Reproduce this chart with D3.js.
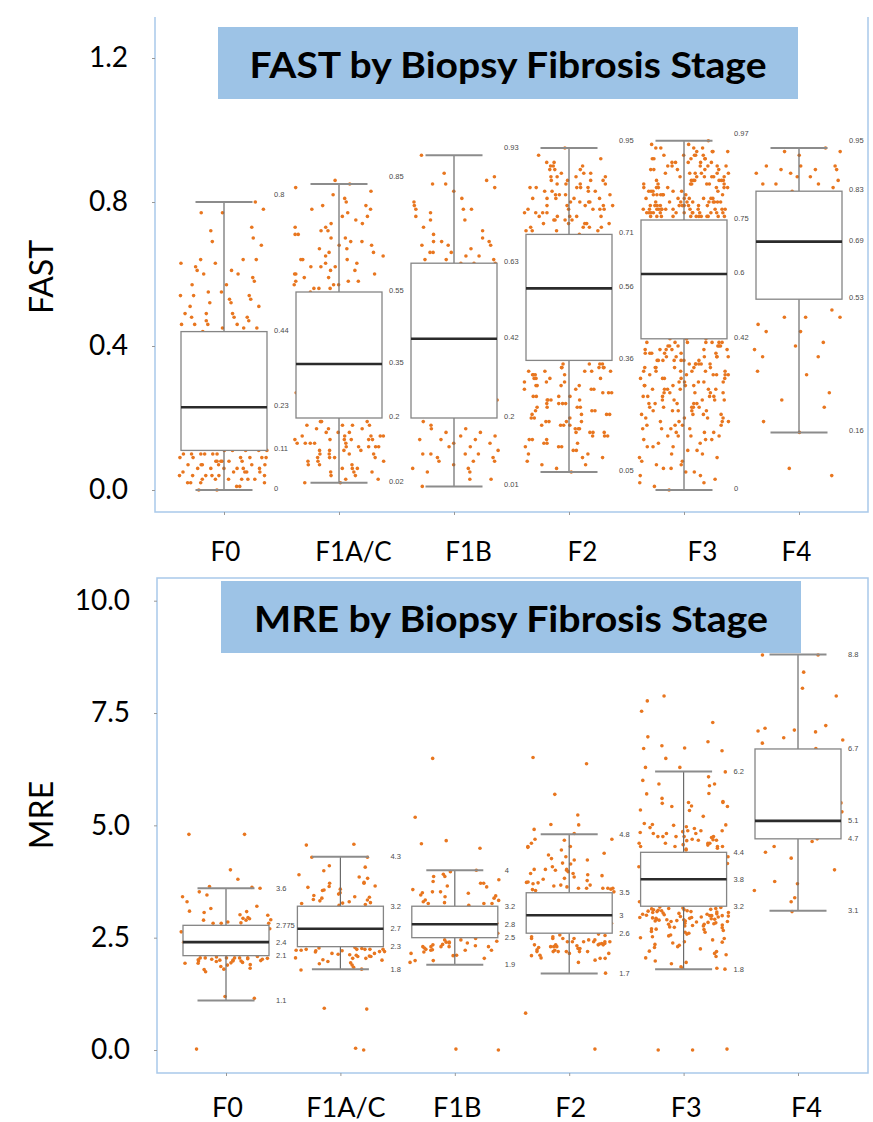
<!DOCTYPE html>
<html>
<head>
<meta charset="utf-8">
<script src="https://cdn.jsdelivr.net/npm/d3@7"></script>
<style>
  body { margin: 0; background: #fff; }
  svg { display: block; }
</style>
</head>
<body>
<svg id="chart" width="873" height="1122"></svg>
<script>
const stages = ["F0", "F1A/C", "F1B", "F2", "F3", "F4"];

// FAST box stats per stage
const fastLow  = [0,    0.02, 0.01, 0.05, 0,    0.16];
const fastQ1   = [0.11, 0.2,  0.2,  0.36, 0.42, 0.53];
const fastMed  = [0.23, 0.35, 0.42, 0.56, 0.6,  0.69];
const fastQ3   = [0.44, 0.55, 0.63, 0.71, 0.75, 0.83];
const fastHigh = [0.8,  0.85, 0.93, 0.95, 0.97, 0.95];
const fastTicks = [0, 0.4, 0.8, 1.2];

// MRE box stats per stage
const mreLow  = [1.1,   1.8, 1.9, 1.7, 1.8, 3.1];
const mreQ1   = [2.1,   2.3, 2.5, 2.6, 3.2, 4.7];
const mreMed  = [2.4,   2.7, 2.8, 3,   3.8, 5.1];
const mreQ3   = [2.775, 3.2, 3.2, 3.5, 4.4, 6.7];
const mreHigh = [3.6,   4.3, 4, 4.8, 6.2, 8.8];
const mreTicks = [0, 2.5, 5, 7.5, 10];

// individual FAST readings, per stage
const fastF0 = [0.80,0.77,0.78,0.77,0.73,0.72,0.70,0.69,0.68,0.64,0.64,0.63,0.63,0.64,0.62,0.60,0.60,0.59,0.61,0.61,
  0.57,0.57,0.58,0.54,0.54,0.55,0.54,0.53,0.55,0.53,0.52,0.51,0.52,0.51,0.49,0.48,0.48,0.47,0.49,0.48,0.49,0.47,0.46,
  0.45,0.45,0.46,0.45,0.44,0.46,0.46,0.41,0.27,0.20,0.18,0.17,0.35,0.30,0.15,0.38,0.24,
  0.11,0.11,0.10,0.11,0.10,0.11,0.11,0.10,0.09,0.10,0.09,0.08,0.09,0.08,0.07,0.09,0.08,0.07,0.06,0.08,0.07,0.06,0.05,
  0.07,0.06,0.05,0.04,0.06,0.05,0.04,0.03,0.05,0.04,0.03,0.02,0.04,0.03,0.02,0.01,0.03,0.02,0.00,0.03,0.04,0.06,0.08,
  0.10,0.09,0.07,0.05,0.02,0.01,0.00,0.08,0.06,0.04,0.10,0.09,0.07,0.03];
const fastF1AC = [0.86,0.83,0.85,0.79,0.81,0.76,0.84,0.78,0.72,0.80,0.74,0.77,0.69,0.75,0.71,0.82,0.66,0.73,0.70,0.64,
  0.68,0.78,0.62,0.67,0.74,0.60,0.65,0.71,0.58,0.63,0.69,0.57,0.61,0.66,0.56,0.59,0.64,0.72,0.62,0.57,0.68,0.60,0.56,
  0.63,0.58,0.76,0.65,0.61,0.57,0.70,0.59,0.67,0.56,0.62,0.79,0.55,0.58,0.64,0.73,0.60,
  0.52,0.47,0.43,0.38,0.33,0.29,0.25,0.22,0.49,0.41,0.36,0.27,0.23,0.31,
  0.19,0.18,0.17,0.15,0.14,0.15,0.14,0.13,0.14,0.15,0.13,0.12,0.16,0.11,0.10,0.13,0.09,0.08,0.12,0.07,0.06,0.10,0.05,
  0.04,0.09,0.03,0.02,0.11,0.06,0.18,0.16,0.12,0.08,0.05,0.19,0.14,0.10,0.07,0.04,0.17,0.13,0.09,0.15,0.11,0.06,0.03,
  0.18,0.12,0.08,0.16,0.14,0.19,0.05,0.10,0.13,0.15,0.17,0.07,0.11,0.02,0.14,0.09,0.18,0.12];
const fastF1B = [0.93,0.88,0.86,0.85,0.84,0.83,0.85,0.81,0.79,0.78,0.76,0.75,0.75,0.78,0.78,0.77,0.69,0.69,0.68,0.71,
  0.70,0.69,0.68,0.72,0.68,0.67,0.66,0.65,0.66,0.64,0.65,0.64,0.63,0.64,0.63,0.63,0.87,0.80,0.73,0.66,
  0.58,0.38,0.50,0.45,0.30,0.25,
  0.19,0.17,0.17,0.16,0.16,0.15,0.15,0.14,0.14,0.14,0.13,0.12,0.11,0.12,0.10,0.10,0.09,0.09,0.10,0.10,0.08,0.08,0.08,
  0.07,0.06,0.06,0.05,0.03,0.01,0.03,0.05,0.18,0.13];
const fastF2 = [0.95,0.92,0.90,0.93,0.88,0.91,0.87,0.89,0.86,0.90,0.85,0.88,0.84,0.87,0.83,0.89,0.82,0.86,0.81,0.85,
  0.80,0.84,0.79,0.83,0.78,0.82,0.77,0.86,0.76,0.81,0.75,0.80,0.74,0.79,0.73,0.78,0.72,0.77,0.84,0.76,0.88,0.75,0.82,
  0.74,0.79,0.73,0.87,0.72,0.81,0.78,0.85,0.76,0.83,0.74,0.80,0.77,0.89,0.73,0.82,0.75,0.86,0.79,0.72,0.84,0.78,0.91,
  0.76,0.81,0.74,0.85,0.80,0.73,0.87,0.77,0.83,0.75,0.79,0.72,0.90,0.81,0.76,0.84,0.78,0.74,0.71,
  0.69,0.66,0.63,0.60,0.57,0.54,0.51,0.48,0.45,0.42,0.39,0.67,0.58,0.49,0.41,
  0.35,0.34,0.33,0.35,0.32,0.34,0.31,0.33,0.30,0.35,0.29,0.32,0.28,0.34,0.27,0.31,0.26,0.33,0.25,0.30,0.24,0.29,0.23,
  0.28,0.22,0.32,0.21,0.27,0.20,0.26,0.19,0.25,0.18,0.24,0.17,0.23,0.16,0.22,0.15,0.21,0.14,0.20,0.13,0.19,0.12,0.18,
  0.11,0.17,0.10,0.16,0.09,0.15,0.08,0.14,0.07,0.13,0.06,0.12,0.05,0.11,0.34,0.29,0.24,0.19,0.31,0.26,0.21,0.16,0.33,
  0.28,0.23,0.18,0.30,0.25,0.20,0.15,0.35,0.27,0.22,0.12,0.32,0.17,0.09,0.26,0.14,0.31,0.23,0.19,0.28,0.10,0.34,0.21,
  0.07,0.25,0.16,0.29,0.13,0.33,0.18,0.24];
const fastF3 = [0.97,0.95,0.93,0.96,0.91,0.94,0.90,0.92,0.89,0.95,0.88,0.93,0.87,0.91,0.86,0.94,0.85,0.90,0.84,0.92,
  0.83,0.89,0.82,0.91,0.81,0.88,0.80,0.87,0.79,0.86,0.78,0.85,0.77,0.84,0.76,0.83,0.80,0.78,0.82,0.77,0.79,0.76,0.81,
  0.78,0.77,0.80,0.76,0.79,0.78,0.77,0.81,0.76,0.93,0.88,0.84,0.79,0.90,0.86,0.82,0.78,0.95,0.89,0.85,0.80,0.77,0.92,
  0.87,0.83,0.79,0.76,0.94,0.88,0.84,0.81,0.78,0.91,0.86,0.82,0.79,0.77,0.96,0.90,0.85,0.80,0.78,0.76,0.93,0.87,0.83,
  0.80,0.77,0.89,0.85,0.81,0.79,0.76,0.92,0.86,0.82,0.78,0.77,0.90,0.84,0.80,0.78,0.76,0.88,0.83,0.79,0.77,0.95,0.87,
  0.81,0.78,0.76,0.91,0.85,0.80,0.77,0.89,0.84,0.79,0.76,0.93,0.86,0.82,0.78,0.77,0.90,0.83,0.80,0.76,0.88,0.81,0.78,
  0.94,0.85,0.79,0.77,0.87,0.82,0.76,0.92,0.80,0.78,0.86,0.84,0.77,
  0.73,0.70,0.67,0.64,0.61,0.58,0.55,0.52,0.49,0.46,0.44,0.71,0.62,0.53,0.47,0.68,0.59,0.50,
  0.42,0.41,0.40,0.39,0.41,0.38,0.40,0.37,0.39,0.36,0.42,0.35,0.38,0.34,0.41,0.33,0.37,0.32,0.40,0.31,0.36,0.30,0.39,
  0.29,0.35,0.28,0.38,0.27,0.34,0.26,0.41,0.25,0.33,0.24,0.37,0.23,0.32,0.22,0.36,0.21,0.31,0.20,0.35,0.19,0.30,0.18,
  0.34,0.17,0.29,0.16,0.33,0.15,0.28,0.14,0.27,0.13,0.26,0.12,0.25,0.11,0.24,0.10,0.23,0.09,0.22,0.08,0.21,0.07,0.20,
  0.06,0.19,0.05,0.18,0.04,0.17,0.03,0.16,0.02,0.15,0.01,0.14,0.00,0.40,0.36,0.32,0.28,0.24,0.20,0.16,0.12,0.08,0.39,
  0.35,0.31,0.27,0.23,0.19,0.15,0.11,0.42,0.38,0.34,0.30,0.26,0.22,0.18,0.14,0.41,0.37,0.33,0.29,0.25,0.21,0.17,0.13,
  0.09,0.40,0.36,0.31,0.27,0.23,0.19,0.42,0.38,0.34,0.30,0.26,0.22,0.39,0.35,0.32,0.28,0.24,0.20,0.41,0.37,0.33,0.29,
  0.25,0.21,0.17,0.40,0.36,0.32,0.28,0.24,0.38,0.34,0.30,0.26,0.22,0.18,0.12,0.06,0.39,0.35,0.31,0.27,0.23,0.41,0.37,
  0.33,0.29,0.25,0.10,0.05,0.36,0.32,0.28,0.04,0.15,0.07,0.02];
const fastF4 = [0.95,0.94,0.94,0.93,0.90,0.90,0.90,0.89,0.89,0.89,0.85,0.86,0.87,0.85,0.85,0.87,0.84,0.83,0.88,0.88,
  0.50,0.48,0.48,0.48,0.46,0.44,0.44,0.40,0.39,0.41,0.37,0.37,0.33,0.32,0.27,0.25,0.23,0.19,0.16,0.06,0.04,
  0.60,0.70,0.75,0.65];

// individual MRE readings, per stage
const mreF0 = [4.80,4.80,4.01,3.80,3.52,3.41,3.64,3.62,3.30,3.60,2.95,2.90,2.92,3.00,3.01,2.93,3.06,3.09,2.89,2.82,
  2.82,2.83,2.89,3.08,2.82,3.20,3.45,2.85,3.15,2.52,2.45,2.23,2.63,2.23,2.35,2.60,2.70,2.15,2.40,
  1.98,1.98,1.99,2.00,2.02,1.98,2.00,1.95,2.04,2.05,2.05,2.03,2.05,2.02,2.05,1.94,1.97,2.05,2.05,1.86,1.82,1.93,1.89,
  1.80,1.93,1.74,1.79,1.19,1.15,0.02,2.08,2.07,1.90,2.01];
const mreF1AC = [4.58,4.56,4.10,4.07,3.71,3.71,3.82,3.73,3.47,3.41,3.55,3.40,3.38,3.65,4.29,4.29,3.44,3.62,3.56,3.50,
  3.90,3.99,3.64,3.34,3.32,3.27,3.26,3.28,3.30,3.24,3.35,3.58,3.22,3.85,2.97,2.61,2.50,2.80,3.05,2.40,2.70,3.10,2.35,
  2.24,2.21,2.19,2.24,2.26,2.22,2.24,2.21,2.15,2.24,2.19,2.09,2.15,2.22,2.24,2.05,2.08,2.11,2.04,2.08,2.12,2.04,2.00,
  1.97,1.80,1.84,1.89,1.94,1.78,2.27,2.18,2.13,0.93,0.91,0.00,0.04,2.28,2.01,1.92];
const mreF1B = [4.66,4.49,4.59,5.18,6.49,3.97,3.86,3.71,3.79,3.45,3.52,3.49,3.34,3.26,3.26,3.52,3.38,3.75,3.41,3.26,
  3.71,3.63,3.57,3.50,3.86,3.91,3.28,3.30,3.33,3.13,3.43,4.00,3.22,3.65,2.82,2.60,3.00,2.70,3.10,2.55,
  2.30,2.22,2.15,2.04,2.30,2.34,2.32,2.22,2.22,2.30,2.38,2.40,2.45,2.11,1.99,2.30,2.23,2.27,2.35,2.24,2.30,2.38,2.45,
  2.42,2.40,1.99,2.10,1.95,0.02,0.00,2.48,2.18];
const mreF2 = [6.51,6.37,5.69,5.23,5.01,5.02,4.91,4.69,4.60,4.51,4.69,4.67,4.53,4.34,4.26,4.23,4.53,4.16,4.23,4.14,
  4.38,4.08,4.00,4.02,3.93,3.72,3.67,3.90,3.93,3.80,3.70,3.60,3.60,3.67,3.82,3.77,3.73,3.60,3.57,3.60,4.00,4.02,3.97,
  4.02,3.74,4.82,3.63,3.60,3.55,3.58,3.85,4.30,3.65,3.52,4.45,3.88,3.26,2.78,2.82,3.26,3.05,2.70,3.40,2.90,3.15,
  2.56,2.48,2.41,2.37,2.41,2.34,2.32,2.34,2.32,2.34,2.41,2.30,2.26,2.34,2.41,2.48,2.37,2.48,2.45,2.48,2.41,2.52,2.41,
  2.52,2.30,2.19,2.11,2.19,2.04,2.19,2.15,2.23,2.19,2.26,2.19,2.19,2.04,2.30,2.00,2.15,1.71,0.82,0.02,2.55,2.45,2.28,
  2.22,2.10,1.95,2.58,2.36,2.05];
const mreF3 = [7.88,7.77,7.54,7.29,6.97,6.77,6.72,6.71,6.86,6.66,6.49,6.29,6.29,6.19,6.08,5.92,5.92,6.00,5.88,5.70,
  5.71,5.51,5.51,5.43,5.53,5.49,5.42,5.42,5.34,5.33,5.04,5.00,5.02,4.82,4.75,4.69,4.82,4.75,4.60,4.75,4.82,4.88,4.84,
  4.88,4.88,4.75,4.75,4.67,5.01,4.86,4.93,4.97,4.53,4.56,4.49,4.60,4.53,4.53,4.67,4.60,4.53,4.60,4.45,4.68,4.73,4.47,
  4.66,4.57,5.20,5.60,4.95,4.30,4.08,3.90,3.41,3.60,4.15,3.70,3.30,4.25,3.50,
  3.17,3.12,3.05,3.10,2.98,3.15,2.95,3.08,3.02,2.90,3.13,2.87,3.00,2.93,3.16,2.84,3.06,2.96,2.80,3.11,2.89,3.03,2.76,
  2.99,2.91,3.14,2.85,3.07,2.72,2.94,3.01,2.82,3.09,2.68,2.97,2.88,3.18,2.78,3.04,2.64,2.92,2.86,3.12,2.74,2.99,2.60,
  2.83,3.06,2.70,2.95,2.56,2.80,3.10,2.66,2.90,2.52,2.77,3.02,2.62,2.87,2.48,2.73,2.96,2.58,2.81,2.45,2.69,2.93,2.54,
  2.40,2.35,2.30,2.25,2.19,2.12,2.05,1.98,1.92,1.85,1.82,1.82,1.80,2.33,2.20,2.08,1.95,2.41,2.28,2.15,2.50,2.62,2.38,
  0.00,0.00,0.02,2.86,2.99,3.08,3.15,2.91,2.76];
const mreF4 = [8.79,8.79,8.41,8.05,7.88,7.08,6.90,6.83,7.16,7.12,7.22,6.71,6.40,6.28,6.12,4.53,4.64,4.70,4.40,4.01,
  4.27,3.75,3.70,3.55,3.39,3.30,3.08,6.95,7.10,5.50,6.00,5.80,4.90,5.30,6.20];

// layout
const boxHalf = 43, capHalf = 28.5, jitterHalf = 45;
const svg = d3.select("#chart");
const frameColor = "#a9c9ea";
const dotColor = "#e8761f";

function drawPanel(p) {
  const g = svg.append("g");
  const x = d3.scalePoint().domain(stages).range(p.xRange);
  const y = d3.scaleLinear().domain(p.yDomain).range(p.yRange);

  // frame
  g.append("path")
    .attr("d", p.frameTop ? `M${p.frame[0]},${p.frame[1]}H${p.frame[2]}V${p.frame[3]}H${p.frame[0]}Z`
                          : `M${p.frame[0]},${p.frame[1]}V${p.frame[3]}H${p.frame[2]}V${p.frame[1]}`)
    .attr("fill", "none").attr("stroke", frameColor).attr("stroke-width", 1.5);

  // y axis
  const yAxis = g.append("g")
    .attr("transform", `translate(${p.frame[0]},0)`)
    .call(d3.axisLeft(y).tickValues(p.ticks).tickFormat(d3.format(".1f")).tickSize(3).tickPadding(24));
  yAxis.select(".domain").remove();
  yAxis.selectAll(".tick line").attr("stroke", "#999");
  yAxis.selectAll("text").attr("fill", "#000").style("font-family", "Lato, 'Open Sans', sans-serif").style("font-size", "28px");

  // x axis
  const xAxis = g.append("g")
    .attr("transform", `translate(0,${p.frame[3]})`)
    .call(d3.axisBottom(x).tickSize(3).tickPadding(p.labelPad));
  xAxis.select(".domain").remove();
  xAxis.selectAll(".tick line").attr("stroke", "#999");
  xAxis.selectAll("text")
    .attr("fill", "#000")
    .attr("x", (d, i) => p.labelNudge[i])
    .style("font-family", "Lato, 'Open Sans', sans-serif").style("font-size", p.labelSize + "px");

  // axis title
  g.append("text")
    .attr("transform", `translate(${p.titleX},${p.titleY}) rotate(-90)`)
    .attr("text-anchor", "middle").attr("dy", "0.35em")
    .style("font-family", "Lato, 'Open Sans', sans-serif").style("font-size", "32px")
    .text(p.axisTitle);

  // dots
  p.dots.forEach((vals, k) => {
    const cx = x(stages[k]);
    g.append("g").selectAll("circle")
      .data(vals)
      .join("circle")
      .attr("cx", (v, i) => {
        const f = ((i * 0.618034 + v * 7.31 + k * 0.17) % 1 + 1) % 1;
        return cx + (f - 0.5) * 2 * jitterHalf;
      })
      .attr("cy", v => y(v))
      .attr("r", 1.8)
      .attr("fill", dotColor);
  });

  // boxes
  const boxes = g.append("g").selectAll("g")
    .data(stages.map((s, i) => ({ s, lo: p.low[i], q1: p.q1[i], md: p.med[i], q3: p.q3[i], hi: p.high[i] })))
    .join("g")
    .attr("transform", d => `translate(${x(d.s)},0)`);

  boxes.append("line").attr("y1", d => y(d.hi)).attr("y2", d => y(d.q3))
    .attr("stroke", "#6b6b6b").attr("stroke-width", 1.2);
  boxes.append("line").attr("y1", d => y(d.q1)).attr("y2", d => y(d.lo))
    .attr("stroke", "#6b6b6b").attr("stroke-width", 1.2);
  boxes.append("rect")
    .attr("x", -boxHalf).attr("width", boxHalf * 2)
    .attr("y", d => y(d.q3)).attr("height", d => y(d.q1) - y(d.q3))
    .attr("fill", "#fff").attr("stroke", "#858585").attr("stroke-width", 1.3);
  boxes.append("line").attr("x1", -boxHalf).attr("x2", boxHalf)
    .attr("y1", d => y(d.md)).attr("y2", d => y(d.md))
    .attr("stroke", "#2b2b2b").attr("stroke-width", 2.6);
  ["hi", "lo"].forEach(key => {
    boxes.append("line").attr("x1", -capHalf).attr("x2", capHalf)
      .attr("y1", d => y(d[key])).attr("y2", d => y(d[key]))
      .attr("stroke", "#8c8c8c").attr("stroke-width", 2);
  });

  // value labels
  ["hi", "q3", "md", "q1", "lo"].forEach(key => {
    boxes.append("text")
      .attr("x", boxHalf + 7)
      .attr("y", d => y(d[key]) + (key === "hi" ? p.hiShift : p.valShift))
      .attr("fill", "#4a4a4a")
      .style("font-family", "'Liberation Sans', Arial, sans-serif").style("font-size", "7.5px")
      .text(d => String(d[key]));
  });

  // title banner
  g.append("rect")
    .attr("x", p.banner[0]).attr("y", p.banner[1])
    .attr("width", p.banner[2] - p.banner[0]).attr("height", p.banner[3] - p.banner[1])
    .attr("fill", "#9dc3e6");
  g.append("text")
    .attr("x", (p.banner[0] + p.banner[2]) / 2).attr("y", p.bannerBase)
    .attr("text-anchor", "middle")
    .attr("textLength", p.bannerWidth).attr("lengthAdjust", "spacingAndGlyphs")
    .style("font-family", "Lato, 'Open Sans', sans-serif").style("font-weight", "bold").style("font-size", "37px")
    .text(p.title);
}

drawPanel({
  title: "FAST by Biopsy Fibrosis Stage", axisTitle: "FAST",
  yDomain: [0, 1.2], yRange: [490, 58], xRange: [224, 799], ticks: fastTicks,
  frame: [155, 17, 868, 512], frameTop: false,
  banner: [218, 27, 798, 99], bannerBase: 78, bannerWidth: 517,
  titleX: 42, titleY: 277,
  labelPad: 28, labelSize: 26, labelNudge: [1, 14, 14, 13, 18, -3],
  hiShift: -5, valShift: 1,
  low: fastLow, q1: fastQ1, med: fastMed, q3: fastQ3, high: fastHigh,
  dots: [fastF0, fastF1AC, fastF1B, fastF2, fastF3, fastF4]
});

drawPanel({
  title: "MRE by Biopsy Fibrosis Stage", axisTitle: "MRE",
  yDomain: [0, 10], yRange: [1050, 600.7], xRange: [226, 798], ticks: mreTicks,
  frame: [157, 578, 868, 1073], frameTop: true,
  banner: [221, 581, 801, 653], bannerBase: 632, bannerWidth: 514,
  titleX: 42, titleY: 815,
  labelPad: 22, labelSize: 27, labelNudge: [1, 5, 2, 1, 2, 8],
  hiShift: 2.5, valShift: 2.5,
  low: mreLow, q1: mreQ1, med: mreMed, q3: mreQ3, high: mreHigh,
  dots: [mreF0, mreF1AC, mreF1B, mreF2, mreF3, mreF4]
});
</script>
</body>
</html>
